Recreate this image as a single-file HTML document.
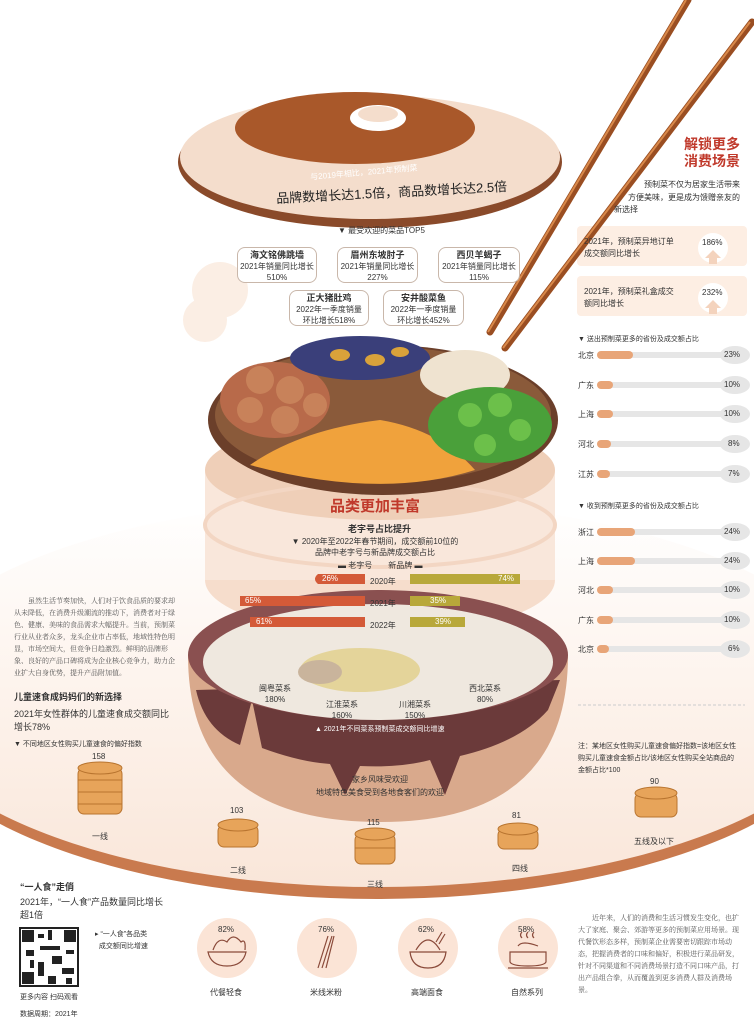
<!DOCTYPE html>
<html><head><meta charset="utf-8"><style>
*{margin:0;padding:0;box-sizing:border-box}
body{width:754px;height:1023px;position:relative;background:#fff;font-family:"Liberation Sans","Noto Sans CJK SC",sans-serif;color:#333;overflow:hidden}
.a{position:absolute;white-space:nowrap}
.s{font-size:8px}
.c{text-align:center}
.box{position:absolute;border:1px solid #c9b7aa;border-radius:8px;background:#fff;text-align:center;font-size:8px;line-height:11px;padding-top:2px}
.box b{font-size:9px}
.serif{font-family:"Noto Serif CJK SC","Liberation Serif",serif;color:#555}
</style></head><body>
<svg width="754" height="1023" style="position:absolute;left:0;top:0">
<defs>
<linearGradient id="bg" x1="0" y1="0" x2="0" y2="1"><stop offset="0" stop-color="#fff"/><stop offset="0.5" stop-color="#fdf3ec"/><stop offset="1" stop-color="#f9e6d9"/></linearGradient>
</defs>
<!-- big platter -->
<ellipse cx="377" cy="702" rx="480" ry="197" fill="#c97a4e"/>
<ellipse cx="377" cy="694" rx="480" ry="193" fill="url(#bg)"/>
<!-- right column boxes -->
<rect x="577" y="226" width="170" height="40" rx="4" fill="#fdeee3"/>
<rect x="577" y="276" width="170" height="40" rx="4" fill="#fdeee3"/>
<circle cx="713" cy="248" r="15" fill="#fff"/><path d="M705 258 l8-8 8 8z M709 258h8v6h-8z" fill="#f4d3bd"/>
<circle cx="713" cy="298" r="15" fill="#fff"/><path d="M705 308 l8-8 8 8z M709 308h8v6h-8z" fill="#f4d3bd"/>
<!-- lid -->
<ellipse cx="370" cy="162" rx="192" ry="66" fill="#8a4a2a"/>
<ellipse cx="370" cy="157" rx="190" ry="62" fill="#f4ddcc"/>
<ellipse cx="355" cy="128" rx="120" ry="36" fill="#a9582a"/>
<ellipse cx="378" cy="118" rx="28" ry="13" fill="#fff"/>
<ellipse cx="378" cy="114" rx="20" ry="8" fill="#f4ddcc"/>
<!-- bg clouds -->
<circle cx="220" cy="290" r="28" fill="#fbeee4"/><circle cx="205" cy="320" r="22" fill="#fbeee4"/>
<!-- steamer layers -->
<ellipse cx="380" cy="580" rx="175" ry="55" fill="#f6ddcc"/>
<rect x="205" y="470" width="350" height="110" fill="#f9e7db"/>
<ellipse cx="380" cy="470" rx="175" ry="50" fill="#efcfb8"/>
<ellipse cx="380" cy="525" rx="175" ry="42" fill="none" stroke="#f3d6c3" stroke-width="4"/>
<!-- pot -->
<path d="M188 655 Q188 822 380 822 Q568 822 568 655 Z" fill="#d9a98c"/>
<path d="M196 690 Q205 730 240 745 L252 700 L262 748 Q300 762 330 764 L345 795 L360 766 Q400 768 430 760 L445 795 L460 756 Q520 742 548 710 L560 680 Z" fill="#6b3a3a"/>
<ellipse cx="378" cy="655" rx="190" ry="65" fill="#8a5050"/>
<ellipse cx="378" cy="662" rx="175" ry="58" fill="#efe8df"/>
<ellipse cx="360" cy="670" rx="60" ry="22" fill="#e4d49a"/>
<ellipse cx="320" cy="672" rx="22" ry="12" fill="#c9b49c"/>
<!-- plate -->
<ellipse cx="383" cy="420" rx="175" ry="75" fill="#6b3f2a"/>
<ellipse cx="383" cy="415" rx="168" ry="68" fill="#8a5a3a"/>
<path d="M250 465 Q300 430 380 420 Q440 430 475 470 Q380 500 250 465" fill="#f0a23c"/>
<ellipse cx="275" cy="400" rx="55" ry="38" fill="#b86a4a"/>
<circle cx="260" cy="380" r="14" fill="#c8825a"/><circle cx="290" cy="390" r="14" fill="#c8825a"/><circle cx="250" cy="410" r="13" fill="#c8825a"/><circle cx="285" cy="420" r="14" fill="#c8825a"/><circle cx="315" cy="405" r="12" fill="#c8825a"/>
<ellipse cx="360" cy="358" rx="70" ry="22" fill="#3a3f7a"/>
<ellipse cx="340" cy="355" rx="10" ry="6" fill="#d9a23a"/><ellipse cx="375" cy="360" rx="10" ry="6" fill="#d9a23a"/><ellipse cx="400" cy="352" rx="9" ry="5" fill="#d9a23a"/>
<ellipse cx="465" cy="375" rx="45" ry="25" fill="#efe3d0"/>
<ellipse cx="490" cy="425" rx="62" ry="38" fill="#4aa03a"/>
<circle cx="470" cy="415" r="12" fill="#6cc04a"/><circle cx="500" cy="405" r="12" fill="#6cc04a"/><circle cx="520" cy="430" r="11" fill="#6cc04a"/><circle cx="485" cy="445" r="11" fill="#6cc04a"/>
<!-- chopsticks -->
<line x1="688" y1="0" x2="490" y2="332" stroke="#9a4e22" stroke-width="7" stroke-linecap="round"/>
<line x1="686" y1="0" x2="488" y2="332" stroke="#d9894a" stroke-width="2"/>
<line x1="752" y1="22" x2="505" y2="348" stroke="#9a4e22" stroke-width="7" stroke-linecap="round"/>
<line x1="750" y1="22" x2="503" y2="348" stroke="#d9894a" stroke-width="2"/>
<!-- bar chart in steamer -->
<path d="M318 574 L365 574 L365 584 L318 584 Q312 579 318 574Z" fill="#d45a38"/>
<path d="M410 574 L520 574 L520 584 L410 584Z" fill="#b8a83a"/>
<path d="M240 596 L365 596 L365 606 L240 606Z" fill="#d45a38"/>
<path d="M410 596 L460 596 L460 606 L410 606Z" fill="#b8a83a"/>
<path d="M250 617 L365 617 L365 627 L250 627Z" fill="#d45a38"/>
<path d="M410 617 L465 617 L465 627 L410 627Z" fill="#b8a83a"/>
<!-- right bars -->
<g fill="#e6e6e6">
<rect x="600" y="352" width="130" height="6" rx="3"/><rect x="600" y="382" width="130" height="6" rx="3"/><rect x="600" y="411" width="130" height="6" rx="3"/><rect x="600" y="441" width="130" height="6" rx="3"/><rect x="600" y="471" width="130" height="6" rx="3"/>
<rect x="600" y="529" width="130" height="6" rx="3"/><rect x="600" y="558" width="130" height="6" rx="3"/><rect x="600" y="587" width="130" height="6" rx="3"/><rect x="600" y="617" width="130" height="6" rx="3"/><rect x="600" y="646" width="130" height="6" rx="3"/>
<ellipse cx="735" cy="355" rx="15" ry="9"/><ellipse cx="735" cy="385" rx="15" ry="9"/><ellipse cx="735" cy="414" rx="15" ry="9"/><ellipse cx="735" cy="444" rx="15" ry="9"/><ellipse cx="735" cy="474" rx="15" ry="9"/>
<ellipse cx="735" cy="532" rx="15" ry="9"/><ellipse cx="735" cy="561" rx="15" ry="9"/><ellipse cx="735" cy="590" rx="15" ry="9"/><ellipse cx="735" cy="620" rx="15" ry="9"/><ellipse cx="735" cy="649" rx="15" ry="9"/>
</g>
<g fill="#e8a578">
<rect x="597" y="351" width="36" height="8" rx="4"/><rect x="597" y="381" width="16" height="8" rx="4"/><rect x="597" y="410" width="16" height="8" rx="4"/><rect x="597" y="440" width="14" height="8" rx="4"/><rect x="597" y="470" width="13" height="8" rx="4"/>
<rect x="597" y="528" width="38" height="8" rx="4"/><rect x="597" y="557" width="38" height="8" rx="4"/><rect x="597" y="586" width="16" height="8" rx="4"/><rect x="597" y="616" width="16" height="8" rx="4"/><rect x="597" y="645" width="12" height="8" rx="4"/>
</g>
<line x1="578" y1="705" x2="745" y2="705" stroke="#ccc" stroke-dasharray="3,2"/>
<!-- steamers bottom -->
<g fill="#e7a45a" stroke="#b8742f" stroke-width="1">
<rect x="78" y="768" width="44" height="46" rx="6"/><line x1="78" y1="780" x2="122" y2="780"/><line x1="78" y1="792" x2="122" y2="792"/><line x1="78" y1="804" x2="122" y2="804"/>
<ellipse cx="100" cy="768" rx="22" ry="6"/>
<rect x="218" y="825" width="40" height="22" rx="6"/><ellipse cx="238" cy="825" rx="20" ry="6"/>
<rect x="355" y="834" width="40" height="30" rx="6"/><line x1="355" y1="848" x2="395" y2="848"/><ellipse cx="375" cy="834" rx="20" ry="6"/>
<rect x="498" y="829" width="40" height="20" rx="6"/><ellipse cx="518" cy="829" rx="20" ry="6"/>
<rect x="635" y="793" width="42" height="24" rx="6"/><ellipse cx="656" cy="793" rx="21" ry="6"/>
</g>
<!-- circles -->
<g fill="#fbe4d6"><circle cx="227" cy="948" r="30"/><circle cx="327" cy="948" r="30"/><circle cx="428" cy="948" r="30"/><circle cx="528" cy="948" r="30"/></g>
<g fill="none" stroke="#8a4a3a" stroke-width="1.2">
<path d="M208 952 h38 q-3 14 -19 14 q-16 0 -19 -14z M213 950 q5 -14 14 -8 q6 -10 14 0 q5 -4 4 8"/>
<path d="M318 968 l10 -32 M322 968 l10 -32 M326 968 l8 -32"/>
<path d="M410 952 h36 q-2 16 -18 16 q-16 0 -18 -16z M416 950 q12 -20 24 0 M436 942 l6 -10 M439 944 l6 -10"/>
<path d="M510 952 h36 v10 q-2 4 -18 4 q-16 0 -18 -4z M508 968 h40 M518 946 q4 -6 20 0 M522 938 q-3 -3 0 -6 M528 938 q-3 -3 0 -6 M534 938 q-3 -3 0 -6"/>
</g>
<!-- qr -->
<rect x="20" y="928" width="58" height="58" fill="#fff" stroke="#222" stroke-width="2"/>
<g fill="#222"><rect x="22" y="930" width="12" height="12"/><rect x="64" y="930" width="12" height="12"/><rect x="22" y="972" width="12" height="12"/>
<rect x="38" y="934" width="6" height="4"/><rect x="48" y="930" width="4" height="10"/><rect x="40" y="946" width="20" height="4"/><rect x="26" y="950" width="8" height="6"/><rect x="52" y="956" width="10" height="8"/><rect x="38" y="962" width="6" height="14"/><rect x="66" y="950" width="8" height="4"/><rect x="62" y="968" width="12" height="6"/><rect x="48" y="976" width="8" height="8"/><rect x="66" y="978" width="6" height="6"/><rect x="30" y="960" width="4" height="8"/></g>
</svg>

<!-- lid text -->
<div class="a s" style="left:310px;top:167px;color:#fff;transform:rotate(-5deg)">与2019年相比，2021年预制菜</div>
<div class="a" style="left:276px;top:182px;font-size:13px;color:#222;transform:rotate(-3deg)">品牌数增长达1.5倍，商品数增长达2.5倍</div>
<div class="a s" style="left:338px;top:225px;color:#333">▼ 最受欢迎的菜品TOP5</div>
<div class="box" style="left:237px;top:247px;width:80px;height:36px"><b>海文铭佛跳墙</b><br>2021年销量同比增长<br>510%</div>
<div class="box" style="left:337px;top:247px;width:81px;height:36px"><b>眉州东坡肘子</b><br>2021年销量同比增长<br>227%</div>
<div class="box" style="left:438px;top:247px;width:82px;height:36px"><b>西贝羊蝎子</b><br>2021年销量同比增长<br>115%</div>
<div class="box" style="left:289px;top:290px;width:80px;height:36px"><b>正大猪肚鸡</b><br>2022年一季度销量<br>环比增长518%</div>
<div class="box" style="left:383px;top:290px;width:81px;height:36px"><b>安井酸菜鱼</b><br>2022年一季度销量<br>环比增长452%</div>

<!-- steamer text -->
<div class="a" style="left:330px;top:495px;font-size:15px;font-weight:bold;color:#c0392b">品类更加丰富</div>
<div class="a" style="left:348px;top:522px;font-size:9px;font-weight:bold">老字号占比提升</div>
<div class="a s c" style="left:290px;top:536px;width:170px;line-height:11px;white-space:normal">▼ 2020年至2022年春节期间，成交额前10位的品牌中老字号与新品牌成交额占比</div>
<div class="a s" style="left:338px;top:560px">▬ 老字号　　新品牌 ▬</div>
<div class="a s" style="left:322px;top:574px;color:#fff">26%</div><div class="a s" style="left:370px;top:576px">2020年</div><div class="a s" style="left:498px;top:574px;color:#fff">74%</div>
<div class="a s" style="left:245px;top:596px;color:#fff">65%</div><div class="a s" style="left:370px;top:598px">2021年</div><div class="a s" style="left:430px;top:596px;color:#fff">35%</div>
<div class="a s" style="left:256px;top:617px;color:#fff">61%</div><div class="a s" style="left:370px;top:620px">2022年</div><div class="a s" style="left:435px;top:617px;color:#fff">39%</div>

<!-- pot text -->
<div class="a s c" style="left:255px;top:683px;width:40px;line-height:11px">闽粤菜系<br>180%</div>
<div class="a s c" style="left:322px;top:699px;width:40px;line-height:11px">江淮菜系<br>160%</div>
<div class="a s c" style="left:395px;top:699px;width:40px;line-height:11px">川湘菜系<br>150%</div>
<div class="a s c" style="left:465px;top:683px;width:40px;line-height:11px">西北菜系<br>80%</div>
<div class="a" style="left:315px;top:724px;font-size:7px;color:#fff">▲ 2021年不同菜系预制菜成交额同比增速</div>
<div class="a s c" style="left:300px;top:773px;width:160px;line-height:13px">家乡风味受欢迎<br>地域特色美食受到各地食客们的欢迎</div>

<!-- right column -->
<div class="a" style="right:14px;top:136px;font-size:14px;font-weight:bold;color:#c0392b;text-align:right;line-height:17px">解锁更多<br>消费场景</div>
<div class="a s" style="right:14px;top:178px;text-align:right;line-height:13px">预制菜不仅为居家生活带来<br>方便美味，更是成为馈赠亲友的</div>
<div class="a s" style="left:614px;top:204px">新选择</div>
<div class="a s" style="left:584px;top:236px;line-height:12px">2021年，预制菜异地订单<br>成交额同比增长</div><div class="a s" style="left:702px;top:238px">186%</div>
<div class="a s" style="left:584px;top:286px;line-height:12px">2021年，预制菜礼盒成交<br>额同比增长</div><div class="a s" style="left:702px;top:288px">232%</div>
<div class="a" style="left:578px;top:334px;font-size:7px">▼ 送出预制菜更多的省份及成交额占比</div>
<div class="a s" style="left:578px;top:350px">北京</div><div class="a s" style="left:724px;top:350px">23%</div>
<div class="a s" style="left:578px;top:380px">广东</div><div class="a s" style="left:724px;top:380px">10%</div>
<div class="a s" style="left:578px;top:409px">上海</div><div class="a s" style="left:724px;top:409px">10%</div>
<div class="a s" style="left:578px;top:439px">河北</div><div class="a s" style="left:728px;top:439px">8%</div>
<div class="a s" style="left:578px;top:469px">江苏</div><div class="a s" style="left:728px;top:469px">7%</div>
<div class="a" style="left:578px;top:501px;font-size:7px">▼ 收到预制菜更多的省份及成交额占比</div>
<div class="a s" style="left:578px;top:527px">浙江</div><div class="a s" style="left:724px;top:527px">24%</div>
<div class="a s" style="left:578px;top:556px">上海</div><div class="a s" style="left:724px;top:556px">24%</div>
<div class="a s" style="left:578px;top:585px">河北</div><div class="a s" style="left:724px;top:585px">10%</div>
<div class="a s" style="left:578px;top:615px">广东</div><div class="a s" style="left:724px;top:615px">10%</div>
<div class="a s" style="left:578px;top:644px">北京</div><div class="a s" style="left:728px;top:644px">6%</div>
<div class="a" style="left:578px;top:741px;font-size:7px;line-height:12px">注：某地区女性购买儿童速食偏好指数=该地区女性<br>购买儿童速食金额占比/该地区女性购买全站商品的<br>金额占比*100</div>

<!-- left text -->
<div class="a serif" style="left:14px;top:595px;width:166px;white-space:normal;font-size:7px;line-height:12px;text-indent:14px">虽然生活节奏加快，人们对于饮食品质的要求却从未降低，在消费升级潮流的推动下，消费者对于绿色、健康、美味的食品需求大幅提升。当前，预制菜行业从业者众多，龙头企业市占率低，地域性特色明显，市场空间大，但竞争日趋激烈。鲜明的品牌形象、良好的产品口碑将成为企业核心竞争力，助力企业扩大自身优势，提升产品附加值。</div>
<div class="a" style="left:14px;top:690px;font-size:9px;font-weight:bold">儿童速食成妈妈们的新选择</div>
<div class="a" style="left:14px;top:708px;font-size:9px;line-height:13px">2021年女性群体的儿童速食成交额同比<br>增长78%</div>
<div class="a" style="left:14px;top:739px;font-size:7px">▼ 不同地区女性购买儿童速食的偏好指数</div>
<div class="a s" style="left:92px;top:752px">158</div><div class="a s" style="left:92px;top:831px">一线</div>
<div class="a s" style="left:230px;top:806px">103</div><div class="a s" style="left:230px;top:865px">二线</div>
<div class="a s" style="left:367px;top:818px">115</div><div class="a s" style="left:367px;top:879px">三线</div>
<div class="a s" style="left:512px;top:811px">81</div><div class="a s" style="left:512px;top:863px">四线</div>
<div class="a s" style="left:650px;top:777px">90</div><div class="a s" style="left:634px;top:836px">五线及以下</div>

<!-- bottom left -->
<div class="a" style="left:20px;top:880px;font-size:9px;font-weight:bold">“一人食”走俏</div>
<div class="a" style="left:20px;top:896px;font-size:9px;line-height:13px">2021年，“一人食”产品数量同比增长<br>超1倍</div>
<div class="a" style="left:95px;top:929px;font-size:7px;line-height:12px">▸ “一人食”各品类<br>&nbsp;&nbsp;成交额同比增速</div>
<div class="a" style="left:20px;top:992px;font-size:7px">更多内容 扫码观看</div>
<div class="a" style="left:20px;top:1009px;font-size:7px">数据周期：2021年</div>

<div class="a s" style="left:218px;top:925px">82%</div><div class="a s" style="left:318px;top:925px">76%</div><div class="a s" style="left:418px;top:925px">62%</div><div class="a s" style="left:518px;top:925px">58%</div>
<div class="a s" style="left:210px;top:987px">代餐轻食</div><div class="a s" style="left:310px;top:987px">米线米粉</div><div class="a s" style="left:411px;top:987px">高端面食</div><div class="a s" style="left:511px;top:987px">自然系列</div>

<div class="a serif" style="left:578px;top:912px;width:166px;white-space:normal;font-size:7px;line-height:12px;text-indent:14px">近年来，人们的消费和生活习惯发生变化，也扩大了家庭、聚会、郊游等更多的预制菜应用场景。现代餐饮形态多样，预制菜企业需要密切跟踪市场动态，把握消费者的口味和偏好，积极进行菜品研发，针对不同渠道和不同消费场景打造不同口味产品，打出产品组合拳，从而覆盖到更多消费人群及消费场景。</div>
</body></html>
